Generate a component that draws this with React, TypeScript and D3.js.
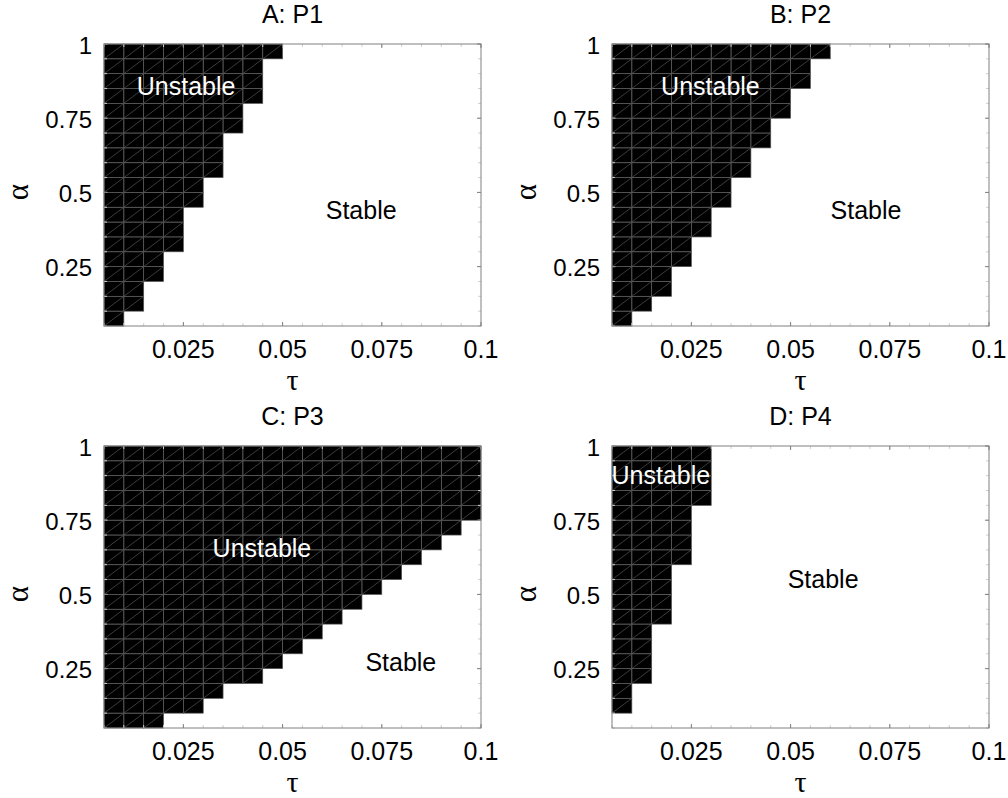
import React from "react";
import * as d3 from "d3";

// grid edges of the (tau, alpha) sweep
const tauEdges = [
  0.005, 0.01, 0.015, 0.02, 0.025, 0.03, 0.035, 0.04, 0.045, 0.05,
  0.055, 0.06, 0.065, 0.07, 0.075, 0.08, 0.085, 0.09, 0.095, 0.1,
];
const alphaEdges = [
  0.05, 0.1, 0.15, 0.2, 0.25, 0.3, 0.35, 0.4, 0.45, 0.5,
  0.55, 0.6, 0.65, 0.7, 0.75, 0.8, 0.85, 0.9, 0.95, 1,
];

// lowest alpha at which each tau column becomes unstable (null = stable everywhere)
const onsetP1 = [0.05, 0.1, 0.2, 0.3, 0.45, 0.55, 0.7, 0.8, 0.95, null, null, null, null, null, null, null, null, null, null];
const onsetP2 = [0.05, 0.1, 0.15, 0.25, 0.35, 0.45, 0.55, 0.65, 0.75, 0.85, 0.95, null, null, null, null, null, null, null, null];
const onsetP3 = [0.05, 0.05, 0.05, 0.1, 0.1, 0.15, 0.2, 0.2, 0.25, 0.3, 0.35, 0.4, 0.45, 0.5, 0.55, 0.6, 0.65, 0.7, 0.75];
const onsetP4 = [0.1, 0.2, 0.4, 0.6, 0.8, null, null, null, null, null, null, null, null, null, null, null, null, null, null];

const xTicks = [0.025, 0.05, 0.075, 0.1];
const xTickLabels = ["0.025", "0.05", "0.075", "0.1"];
const yTicks = [0.25, 0.5, 0.75, 1];
const yTickLabels = ["0.25", "0.5", "0.75", "1"];

const titles = ["A: P1", "B: P2", "C: P3", "D: P4"];
// [tau, alpha] where the region labels sit
const unstablePos = [[0.0257, 0.858], [0.0298, 0.858], [0.0448, 0.656], [0.0173, 0.902]];
const stablePos = [[0.0698, 0.441], [0.069, 0.441], [0.0798, 0.272], [0.0582, 0.552]];

const W = 377;
const H = 282;
const origins = [[104, 44], [612, 44], [104, 446], [612, 446]];

const sans = "Liberation Sans, Arial, Helvetica, sans-serif";
const serif = "Liberation Serif, Times New Roman, serif";

function Panel({ idx, onset }: { idx: number; onset: (number | null)[] }) {
  const [ox, oy] = origins[idx];
  const x = d3.scaleLinear().domain([0.005, 0.1]).range([0, W]);
  const y = d3.scaleLinear().domain([0.05, 1]).range([H, 0]);

  const cells: { x0: number; x1: number; y0: number; y1: number }[] = [];
  onset.forEach((a, i) => {
    if (a === null) return;
    for (let j = 0; j < alphaEdges.length - 1; j++) {
      if (alphaEdges[j] >= a - 1e-9) {
        cells.push({
          x0: x(tauEdges[i]),
          x1: x(tauEdges[i + 1]),
          y0: y(alphaEdges[j]),
          y1: y(alphaEdges[j + 1]),
        });
      }
    }
  });

  const gridCol = "#555";
  return (
    <g transform={`translate(${ox},${oy})`}>
      {/* unstable cells */}
      {cells.map((c, k) => (
        <rect key={"r" + k} x={c.x0} y={c.y1} width={c.x1 - c.x0} height={c.y0 - c.y1} fill="#000" />
      ))}
      {cells.map((c, k) => (
        <g key={"g" + k} stroke={gridCol} strokeWidth={0.7} fill="none">
          <rect x={c.x0} y={c.y1} width={c.x1 - c.x0} height={c.y0 - c.y1} />
          <line x1={c.x0} y1={c.y0} x2={c.x1} y2={c.y1} />
        </g>
      ))}

      {/* minor ticks at grid lines */}
      <g stroke="#cfcfcf" strokeWidth={1}>
        {tauEdges.map((t, k) => (
          <g key={"mx" + k}>
            <line x1={x(t)} x2={x(t)} y1={H} y2={H - 3} />
            <line x1={x(t)} x2={x(t)} y1={0} y2={3} />
          </g>
        ))}
        {alphaEdges.map((a, k) => (
          <g key={"my" + k}>
            <line x1={0} x2={3} y1={y(a)} y2={y(a)} />
            <line x1={W} x2={W - 3} y1={y(a)} y2={y(a)} />
          </g>
        ))}
      </g>

      {/* major ticks */}
      <g stroke="#808080" strokeWidth={1}>
        {xTicks.map((t, k) => (
          <g key={"tx" + k}>
            <line x1={x(t)} x2={x(t)} y1={H} y2={H - 4} />
            <line x1={x(t)} x2={x(t)} y1={0} y2={4} />
          </g>
        ))}
        {yTicks.map((a, k) => (
          <g key={"ty" + k}>
            <line x1={0} x2={4} y1={y(a)} y2={y(a)} />
            <line x1={W} x2={W - 4} y1={y(a)} y2={y(a)} />
          </g>
        ))}
      </g>

      {/* axes box */}
      <rect x={0} y={0} width={W} height={H} fill="none" stroke="#808080" strokeWidth={1} />

      {/* tick labels */}
      <g fontFamily={sans} fill="#000">
        {xTicks.map((t, k) => (
          <text key={"lx" + k} x={x(t)} y={H + 32} textAnchor="middle" fontSize={25}>
            {xTickLabels[k]}
          </text>
        ))}
        {yTicks.map((a, k) => (
          <text key={"ly" + k} x={-12} y={y(a) + 1} textAnchor="end" dominantBaseline="central" fontSize={24}>
            {yTickLabels[k]}
          </text>
        ))}
      </g>

      {/* title */}
      <text x={W / 2} y={-21} textAnchor="middle" fontFamily={sans} fontSize={25}>
        {titles[idx]}
      </text>

      {/* axis labels */}
      <text x={W / 2} y={H + 64} textAnchor="middle" fontFamily={serif} fontSize={30}>
        τ
      </text>
      <text
        transform={`translate(${-76},${H / 2 + 7}) rotate(-90)`}
        textAnchor="middle"
        fontFamily={serif}
        fontSize={31}
      >
        α
      </text>

      {/* region labels */}
      <text
        x={x(unstablePos[idx][0])}
        y={y(unstablePos[idx][1])}
        textAnchor="middle"
        dominantBaseline="central"
        fontFamily={sans}
        fontSize={25}
        fill="#fff"
      >
        Unstable
      </text>
      <text
        x={x(stablePos[idx][0])}
        y={y(stablePos[idx][1])}
        textAnchor="middle"
        dominantBaseline="central"
        fontFamily={sans}
        fontSize={25}
        fill="#000"
      >
        Stable
      </text>
    </g>
  );
}

export default function App() {
  const onsets = [onsetP1, onsetP2, onsetP3, onsetP4];
  return (
    <svg
      width={1008}
      height={798}
      style={{ position: "absolute", left: 0, top: 0, background: "#fff" }}
    >
      {onsets.map((o, i) => (
        <Panel key={i} idx={i} onset={o} />
      ))}
    </svg>
  );
}
